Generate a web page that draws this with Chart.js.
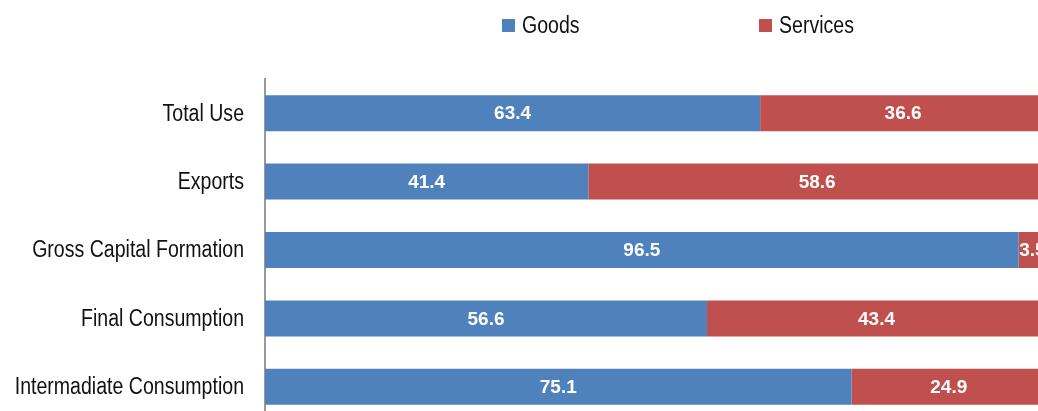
<!DOCTYPE html>
<html>
<head>
<meta charset="utf-8">
<script src="https://cdn.jsdelivr.net/npm/chart.js@4/dist/chart.umd.min.js"></script>
<style>
    body { margin: 0; background: #fff; overflow: hidden; }
    #wrap { position: absolute; left: 0; top: 0; width: 1060px; height: 430px; }
    #legend {
        position: absolute; left: 502px; top: 12px;
        display: flex; align-items: center;
        font-family: "Liberation Sans", Arial, sans-serif;
        font-size: 23px; color: #111;
    }
    #legend .item { display: flex; align-items: center; width: 257px; }
    #legend .box { width: 13px; height: 13px; margin-right: 7px; flex: none; }
    #legend .txt { display: inline-block; transform: scaleX(0.85); transform-origin: left center; }
</style>
</head>
<body>
<div id="wrap">
    <canvas id="useChart" width="1060" height="430"></canvas>
    <div id="legend"></div>
</div>
<script>
// ===============================
// DATA
// ===============================
const categories = ["Total Use", "Exports", "Gross Capital Formation", "Final Consumption", "Intermadiate Consumption"];
const goods = [63.4, 41.4, 96.5, 56.6, 75.1];
const services = [36.6, 58.6, 3.5, 43.4, 24.9];

const squeeze = 0.85; // the original text is a narrow face

// category names, drawn condensed like the original
const yLabels = {
    id: "yLabels",
    afterDraw(chart) {
        const ctx = chart.ctx;
        const y = chart.scales.y;
        ctx.save();
        ctx.font = "23px 'Liberation Sans', Arial, sans-serif";
        ctx.fillStyle = "#111";
        ctx.textAlign = "right";
        ctx.textBaseline = "middle";
        chart.data.labels.forEach((lab, i) => {
            ctx.save();
            ctx.translate(y.right - 21, y.getPixelForTick(i) + 1);
            ctx.scale(squeeze, 1);
            ctx.fillText(lab, 0, 0);
            ctx.restore();
        });
        ctx.restore();
    }
};

// values written inside each bar segment
const valueLabels = {
    id: "valueLabels",
    afterDatasetsDraw(chart) {
        const ctx = chart.ctx;
        ctx.save();
        ctx.font = "bold 19px 'Liberation Sans', Arial, sans-serif";
        ctx.fillStyle = "#fff";
        ctx.textAlign = "center";
        ctx.textBaseline = "middle";
        chart.data.datasets.forEach((ds, i) => {
            chart.getDatasetMeta(i).data.forEach((bar, j) => {
                const p = bar.getCenterPoint();
                ctx.fillText(ds.data[j].toFixed(1), p.x, p.y + 1);
            });
        });
        ctx.restore();
    }
};

const chart = new Chart(document.getElementById("useChart"), {
    type: "bar",
    data: {
        labels: categories,
        datasets: [
            { label: "Goods", data: goods, backgroundColor: "#4F81BD" },
            { label: "Services", data: services, backgroundColor: "#C0504D" }
        ]
    },
    options: {
        indexAxis: "y",
        responsive: false,
        animation: false,
        categoryPercentage: 1,
        barPercentage: 0.526,
        layout: { padding: { top: 79, right: 14, bottom: 9, left: 0 } },
        plugins: {
            legend: { display: false },
            tooltip: { enabled: false }
        },
        scales: {
            x: { display: false, stacked: true, min: 0, max: 100 },
            y: {
                stacked: true,
                grid: { display: false },
                border: { display: true, color: "#999", width: 2 },
                ticks: { display: false },
                afterFit(scale) { scale.width = 265; }
            }
        }
    },
    plugins: [yLabels, valueLabels]
});

// html legend built from the datasets
const legend = document.getElementById("legend");
chart.data.datasets.forEach(ds => {
    const item = document.createElement("div");
    item.className = "item";
    const box = document.createElement("span");
    box.className = "box";
    box.style.background = ds.backgroundColor;
    const txt = document.createElement("span");
    txt.className = "txt";
    txt.textContent = ds.label;
    item.appendChild(box);
    item.appendChild(txt);
    legend.appendChild(item);
});
</script>
</body>
</html>
